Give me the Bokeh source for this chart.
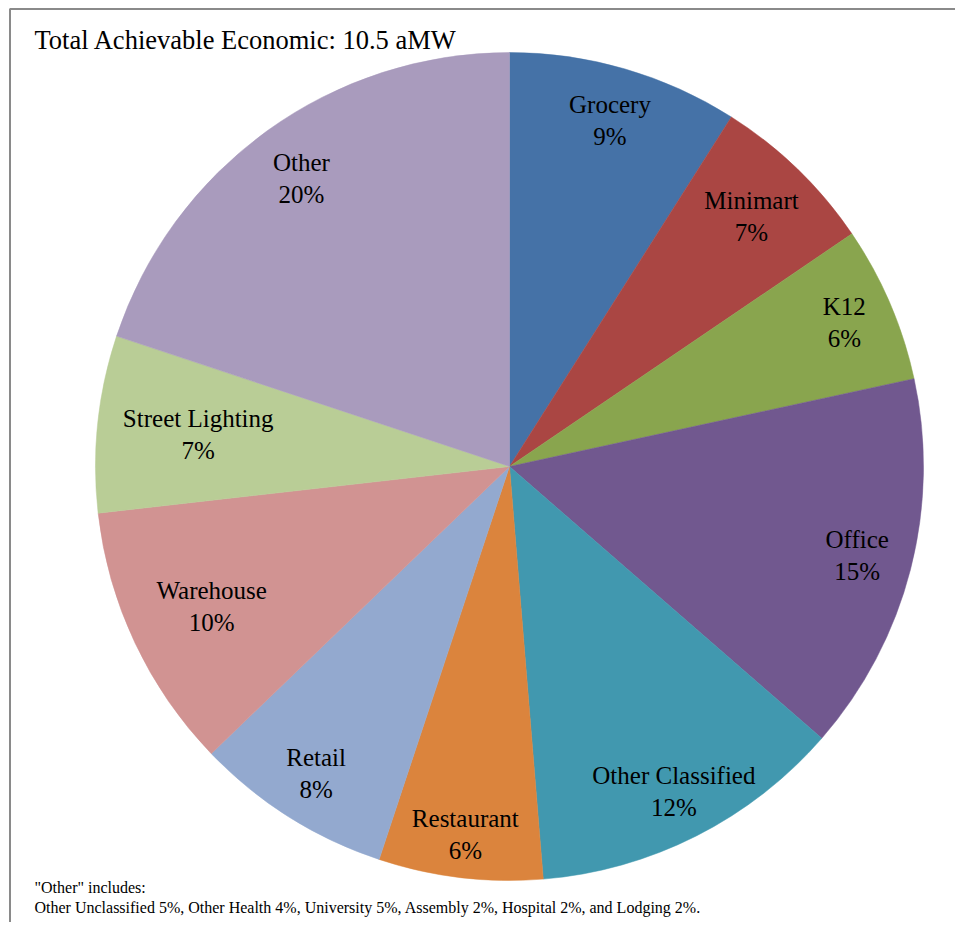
import math
from bokeh.plotting import figure
from bokeh.models import Range1d
from bokeh.core.properties import value
from bokeh.embed import file_html
from bokeh.resources import INLINE

# ---- data ----
categories = ["Grocery", "Minimart", "K12", "Office", "Other Classified",
              "Restaurant", "Retail", "Warehouse", "Street Lighting", "Other"]
shares = [9.0, 6.5, 6.1, 14.8, 12.3, 6.4, 7.7, 10.4, 6.9, 19.9]
colors = ["#4572A7", "#AA4643", "#89A54E", "#71588F", "#4198AF",
          "#DB843D", "#93A9CF", "#D19392", "#B9CD96", "#A99BBD"]
title_text = "Total Achievable Economic: 10.5 aMW"
note_lines = ['"Other" includes:',
              "Other Unclassified 5%, Other Health 4%, University 5%, Assembly 2%, Hospital 2%, and Lodging 2%."]

# ---- layout / style ----
W, H = 955, 922
cx, cy, R = 509, H - 466, 414
label_frac = [0.87, 0.84, 0.88, 0.867, 0.88, 0.896, 0.876, 0.795, 0.756, 0.859]
FONT = value("Liberation Serif")

p = figure(width=W, height=H, output_backend="svg", toolbar_location=None,
           x_range=Range1d(0, W), y_range=Range1d(0, H), min_border=0,
           outline_line_color=None)
p.axis.visible = False
p.grid.visible = False
p.background_fill_color = "white"

total = sum(shares)
cum = 0.0
starts, ends, lx, ly = [], [], [], []
for s, f in zip(shares, label_frac):
    a0 = math.pi / 2 - 2 * math.pi * cum / total
    a1 = math.pi / 2 - 2 * math.pi * (cum + s) / total
    starts.append(a0)
    ends.append(a1)
    am = (a0 + a1) / 2
    lx.append(cx + f * R * math.cos(am))
    ly.append(cy + f * R * math.sin(am))
    cum += s

pct_text = [f"{int(math.floor(100 * s / total + 0.5))}%" for s in shares]

p.wedge(x=cx, y=cy, radius=R, start_angle=starts, end_angle=ends,
        direction="clock", fill_color=colors, line_color=colors, line_width=0.5)

p.text(x=lx, y=[y + 16 for y in ly], text=categories, text_font=FONT,
       text_font_size="25px", text_align="center", text_baseline="middle",
       text_color="#000000")
p.text(x=lx, y=[y - 16 for y in ly], text=pct_text, text_font=FONT,
       text_font_size="25px", text_align="center", text_baseline="middle",
       text_color="#000000")

# title
p.text(x=[34], y=[H - 39], text=[title_text], text_font=FONT, text_font_size="26.5px",
       text_align="left", text_baseline="middle", text_color="#000000")

# footnote
p.text(x=[34, 34], y=[H - 887, H - 907], text=note_lines, text_font=FONT,
       text_font_size="16px", text_align="left", text_baseline="middle",
       text_color="#000000")

# frame border (left and top only visible in view)
p.line(x=[9.5, 9.5, W], y=[0, H - 8.5, H - 8.5], line_color="#8a8a8a", line_width=2)

open("out.html", "w").write(file_html(p, INLINE))
